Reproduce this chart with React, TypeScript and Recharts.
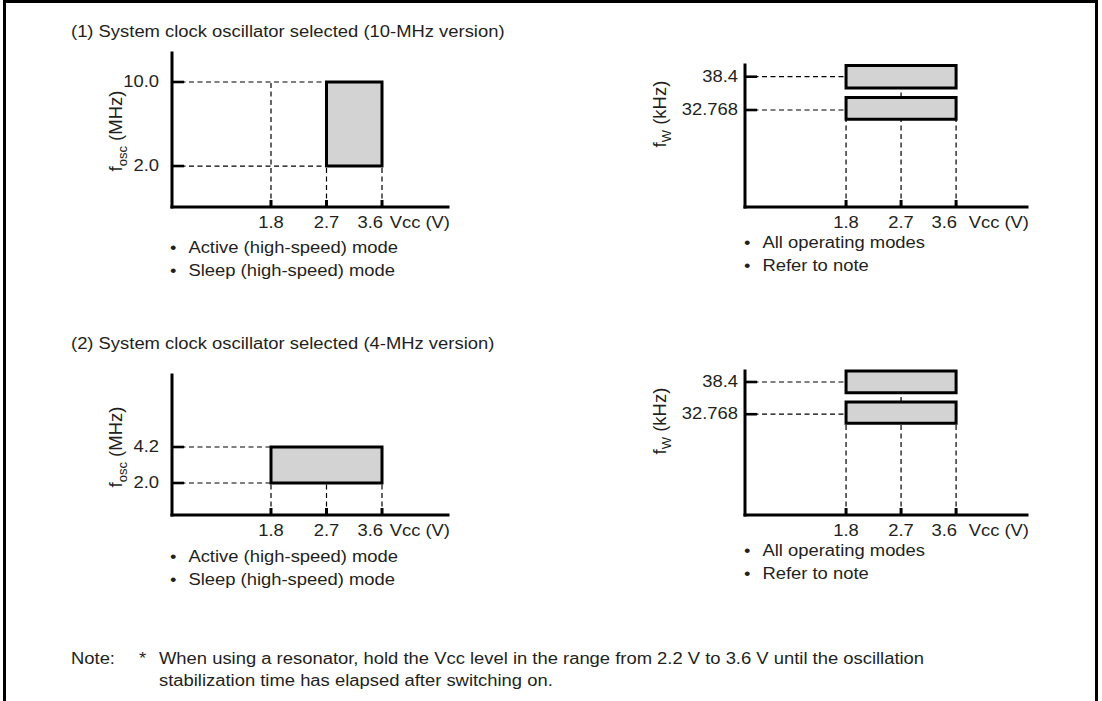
import React from "react";
import {
  ComposedChart,
  Scatter,
  XAxis,
  YAxis,
  ReferenceArea,
  ReferenceLine,
  Label,
} from "recharts";

// Vcc axis ticks (V), shared by all four panels
const vccTicks = [1.8, 2.7, 3.6];

// (1) 10-MHz version, system clock
const osc10Ticks = [2.0, 10.0];
const osc10Vcc = [2.7, 3.6];
const osc10Freq = [2.0, 10.0];

// (2) 4-MHz version, system clock
const osc4Ticks = [2.0, 4.2];
const osc4Vcc = [1.8, 3.6];
const osc4Freq = [2.0, 4.2];

// subclock (watch) oscillator, both versions
const subTicks = [32.768, 38.4];
const subVcc = [1.8, 3.6];
const subBandLow = [31.2, 34.9];
const subBandHigh = [36.5, 40.3];

const FONT = "'Liberation Sans', Arial, Helvetica, sans-serif";
const INK = "#231f20";
const FILL = "#d3d3d3";
const SX = 1.15; // the source type is a bit wide for its height

type Band = { x1: number; x2: number; y1: number; y2: number };

type PanelProps = {
  left: number;
  top: number;
  width: number;
  height: number;
  margin: { top: number; right: number; bottom: number; left: number };
  xDomain: [number, number];
  yDomain: [number, number];
  yTicks: number[];
  yFormat: (v: number) => string;
  yGap: number;
  bands: Band[];
  titleMain: string;
  titleSub: string;
  titleUnit: string;
  titleDx: number;
  titleDy: number;
};

const Nothing = () => <g />;

// wide text anchored at (x, y)
function WideText({
  x,
  y,
  anchor,
  children,
}: {
  x: number;
  y: number;
  anchor: "start" | "middle" | "end";
  children: React.ReactNode;
}) {
  return (
    <text
      transform={`translate(${x},${y}) scale(${SX},1)`}
      textAnchor={anchor}
      fontSize={16}
      fontFamily={FONT}
      fill={INK}
    >
      {children}
    </text>
  );
}

function Panel(p: PanelProps) {
  const xMin = p.xDomain[0];
  const yMin = p.yDomain[0];
  const bandLeft = Math.min(...p.bands.map((b) => b.x1));
  const bandRight = Math.max(...p.bands.map((b) => b.x2));
  const bandBottom = Math.min(...p.bands.map((b) => b.y1));
  const topTick = Math.max(...p.yTicks);

  // corner points of the boxes, only so the chart has data for its axes
  const corners = p.bands.flatMap((b) => [
    { v: b.x1, f: b.y1 },
    { v: b.x2, f: b.y2 },
  ]);

  // dashed guides: each frequency tick runs to the box, each Vcc tick runs up from the axis
  const guides: { x: number; y: number }[][] = [];
  p.yTicks.forEach((f) => {
    guides.push([
      { x: xMin, y: f },
      { x: bandLeft, y: f },
    ]);
  });
  vccTicks.forEach((v) => {
    const inside = v >= bandLeft && v <= bandRight;
    guides.push([
      { x: v, y: yMin },
      { x: v, y: inside ? bandBottom : topTick },
    ]);
  });
  // little gap dashes between stacked bands
  if (p.bands.length > 1) {
    const sorted = [...p.bands].sort((a, b) => a.y1 - b.y1);
    for (let i = 0; i < sorted.length - 1; i++) {
      vccTicks.forEach((v) => {
        if (v > bandLeft && v < bandRight) {
          guides.push([
            { x: v, y: sorted[i].y2 },
            { x: v, y: sorted[i + 1].y1 },
          ]);
        }
      });
    }
  }

  const lastVcc = vccTicks[vccTicks.length - 1];

  const renderYTick = (t: any) => {
    const { x, y, payload } = t;
    return (
      <g>
        <line x1={x} x2={x + 12} y1={y} y2={y} stroke="#000" strokeWidth={2.6} />
        <WideText x={x - p.yGap} y={y + 5} anchor="end">
          {p.yFormat(payload.value)}
        </WideText>
      </g>
    );
  };

  const renderXTick = (t: any) => {
    const { x, y, payload } = t;
    const last = payload.value === lastVcc;
    return (
      <g>
        <line x1={x} x2={x} y1={y} y2={y - 7} stroke="#000" strokeWidth={3} />
        <WideText x={last ? x + 1 : x} y={y + 21} anchor={last ? "end" : "middle"}>
          {payload.value.toFixed(1)}
        </WideText>
      </g>
    );
  };

  const renderYTitle = (l: any) => {
    const vb = l.viewBox;
    const cx = vb.x + vb.width + p.titleDx;
    const cy = vb.y + vb.height / 2 + p.titleDy;
    return (
      <text
        x={cx}
        y={cy}
        transform={`rotate(-90, ${cx}, ${cy})`}
        textAnchor="middle"
        fontSize={18.5}
        fontFamily={FONT}
        fill={INK}
      >
        {p.titleMain}
        <tspan dy={4.5} fontSize={13}>
          {p.titleSub}
        </tspan>
        <tspan dy={-4.5}>{" " + p.titleUnit}</tspan>
      </text>
    );
  };

  const renderXTitle = (l: any) => {
    const vb = l.viewBox;
    return (
      <WideText x={vb.x + vb.width + 2} y={vb.y + 21} anchor="end">
        Vcc (V)
      </WideText>
    );
  };

  const axisLine = { stroke: "#000", strokeWidth: 3, strokeLinecap: "square" as const };

  return (
    <div style={{ position: "absolute", left: p.left, top: p.top }}>
      <ComposedChart width={p.width} height={p.height} margin={p.margin}>
        <XAxis
          type="number"
          dataKey="v"
          domain={p.xDomain}
          ticks={vccTicks}
          interval={0}
          height={1}
          tickSize={0}
          tickMargin={0}
          tickLine={false}
          axisLine={axisLine}
          tick={renderXTick}
          allowDataOverflow
        >
          <Label content={renderXTitle} />
        </XAxis>
        <YAxis
          type="number"
          dataKey="f"
          domain={p.yDomain}
          ticks={p.yTicks}
          interval={0}
          width={1}
          tickSize={0}
          tickMargin={0}
          tickLine={false}
          axisLine={axisLine}
          tick={renderYTick}
          allowDataOverflow
        >
          <Label content={renderYTitle} />
        </YAxis>
        <Scatter data={corners} dataKey="f" shape={Nothing} isAnimationActive={false} />
        {guides.map((seg, i) => (
          <ReferenceLine
            key={`g-${i}`}
            segment={seg}
            stroke="#000"
            strokeWidth={1.2}
            strokeDasharray="5 3.5"
            ifOverflow="visible"
          />
        ))}
        {p.bands.map((b, i) => (
          <ReferenceArea
            key={`b-${i}`}
            x1={b.x1}
            x2={b.x2}
            y1={b.y1}
            y2={b.y2}
            fill={FILL}
            fillOpacity={1}
            stroke="#000"
            strokeWidth={3}
            ifOverflow="visible"
          />
        ))}
      </ComposedChart>
    </div>
  );
}

const textStyle: React.CSSProperties = {
  position: "absolute",
  fontFamily: FONT,
  fontSize: 16,
  lineHeight: "16px",
  color: INK,
  whiteSpace: "nowrap",
  transform: `scaleX(${SX})`,
  transformOrigin: "0 0",
};

function Bullets({ left, top, items }: { left: number; top: number; items: string[] }) {
  return (
    <>
      {items.map((t, i) => (
        <div key={t} style={{ ...textStyle, left, top: top + i * 23 }}>
          <span style={{ display: "inline-block", width: 16 }}>•</span>
          {t}
        </div>
      ))}
    </>
  );
}

const fmtMHz = (v: number) => v.toFixed(1);
const fmtKHz = (v: number) => String(v);

export default function App() {
  const subBands: Band[] = [
    { x1: subVcc[0], x2: subVcc[1], y1: subBandLow[0], y2: subBandLow[1] },
    { x1: subVcc[0], x2: subVcc[1], y1: subBandHigh[0], y2: subBandHigh[1] },
  ];
  return (
    <div
      style={{
        position: "absolute",
        left: 0,
        top: 0,
        width: 1102,
        height: 701,
        overflow: "hidden",
        background: "#fff",
      }}
    >
      <div
        style={{
          position: "absolute",
          left: 3,
          top: 0,
          width: 1095,
          height: 760,
          border: "3px solid #000",
          boxSizing: "border-box",
        }}
      />

      <div style={{ ...textStyle, left: 71, top: 24 }}>
        (1) System clock oscillator selected (10-MHz version)
      </div>
      <div style={{ ...textStyle, left: 71, top: 336 }}>
        (2) System clock oscillator selected (4-MHz version)
      </div>

      <Panel
        left={60}
        top={40}
        width={400}
        height={200}
        margin={{ top: 13, right: 12, bottom: 32, left: 111 }}
        xDomain={[0.195, 4.67]}
        yDomain={[-1.9, 12.76]}
        yTicks={osc10Ticks}
        yFormat={fmtMHz}
        yGap={13}
        bands={[{ x1: osc10Vcc[0], x2: osc10Vcc[1], y1: osc10Freq[0], y2: osc10Freq[1] }]}
        titleMain="f"
        titleSub="osc"
        titleUnit="(MHz)"
        titleDx={-50}
        titleDy={1}
      />
      <Panel
        left={620}
        top={40}
        width={420}
        height={200}
        margin={{ top: 25, right: 13, bottom: 32, left: 124 }}
        xDomain={[0.147, 4.76]}
        yDomain={[16.36, 40.38]}
        yTicks={subTicks}
        yFormat={fmtKHz}
        yGap={7}
        bands={subBands}
        titleMain="f"
        titleSub="W"
        titleUnit="(kHz)"
        titleDx={-79}
        titleDy={-22}
      />
      <Panel
        left={60}
        top={360}
        width={400}
        height={190}
        margin={{ top: 15, right: 12, bottom: 34, left: 111 }}
        xDomain={[0.195, 4.67]}
        yDomain={[0.044, 8.6]}
        yTicks={osc4Ticks}
        yFormat={fmtMHz}
        yGap={13}
        bands={[{ x1: osc4Vcc[0], x2: osc4Vcc[1], y1: osc4Freq[0], y2: osc4Freq[1] }]}
        titleMain="f"
        titleSub="osc"
        titleUnit="(MHz)"
        titleDx={-50}
        titleDy={2}
      />
      <Panel
        left={620}
        top={350}
        width={420}
        height={200}
        margin={{ top: 21, right: 13, bottom: 34, left: 124 }}
        xDomain={[0.147, 4.76]}
        yDomain={[15.16, 40.32]}
        yTicks={subTicks}
        yFormat={fmtKHz}
        yGap={7}
        bands={subBands}
        titleMain="f"
        titleSub="W"
        titleUnit="(kHz)"
        titleDx={-79}
        titleDy={-22}
      />

      <Bullets
        left={170}
        top={240}
        items={["Active (high-speed) mode", "Sleep (high-speed) mode"]}
      />
      <Bullets left={744} top={235} items={["All operating modes", "Refer to note"]} />
      <Bullets
        left={170}
        top={549}
        items={["Active (high-speed) mode", "Sleep (high-speed) mode"]}
      />
      <Bullets left={744} top={543} items={["All operating modes", "Refer to note"]} />

      <div style={{ ...textStyle, left: 71, top: 651 }}>Note:</div>
      <div style={{ ...textStyle, left: 139, top: 651 }}>*</div>
      <div style={{ ...textStyle, left: 159, top: 651 }}>
        When using a resonator, hold the Vcc level in the range from 2.2 V to 3.6 V until the
        oscillation
      </div>
      <div style={{ ...textStyle, left: 159, top: 673 }}>
        stabilization time has elapsed after switching on.
      </div>
    </div>
  );
}
